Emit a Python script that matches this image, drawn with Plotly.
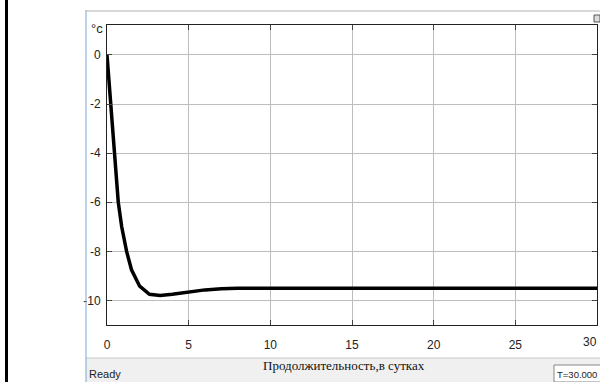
import plotly.graph_objects as go

# Data
t_days = [0, 0.22, 0.42, 0.58, 0.69, 0.9, 1.2, 1.5, 2.0, 2.6, 3.25, 4.0, 5.0, 6.0, 7.0, 8.0, 30]
temp_c = [0, -2, -4, -5.1, -6, -7, -8, -8.75, -9.42, -9.75, -9.8, -9.75, -9.65, -9.57, -9.52, -9.5, -9.5]
x_ticks = [0, 5, 10, 15, 20, 25, 30]
y_ticks = [0, -2, -4, -6, -8, -10]

W, H = 600, 382
L, R, T, B = 107, 597, 25, 325

def px(x):
    return (x - L) / (R - L)

def py(y):
    return (B - y) / (B - T)

fig = go.Figure()
fig.add_trace(go.Scatter(x=t_days, y=temp_c, mode="lines",
                         line=dict(color="black", width=3.5), showlegend=False))

shapes = [
    # status bar background
    dict(type="rect", xref="paper", yref="paper", x0=px(86), x1=px(600), y0=py(382), y1=py(358),
         fillcolor="#f0f0f0", line=dict(width=0), layer="below"),
    dict(type="line", xref="paper", yref="paper", x0=px(86), x1=px(600), y0=py(358), y1=py(358),
         line=dict(color="#c8c8c8", width=1)),
    # outer black frame line
    dict(type="line", xref="paper", yref="paper", x0=px(6.5), x1=px(6.5), y0=py(0), y1=py(382),
         line=dict(color="black", width=3)),
    # window left edge (blue)
    dict(type="line", xref="paper", yref="paper", x0=px(86), x1=px(86), y0=py(10), y1=py(382),
         line=dict(color="#7aa7d6", width=1)),
    # window top edge
    dict(type="line", xref="paper", yref="paper", x0=px(86), x1=px(600), y0=py(11), y1=py(11),
         line=dict(color="#b4b4b4", width=1)),
    # small icon at top right
    dict(type="rect", xref="paper", yref="paper", x0=px(594), x1=px(600), y0=py(22), y1=py(15),
         fillcolor="#dddddd", line=dict(color="#555555", width=1)),
    # T= box
    dict(type="rect", xref="paper", yref="paper", x0=px(554), x1=px(601), y0=py(382), y1=py(365),
         fillcolor="white", line=dict(color="#888888", width=1)),
]

annotations = [
    dict(text="°c", xref="paper", yref="paper", x=px(89), y=py(28), xanchor="left", yanchor="middle",
         showarrow=False, font=dict(family="Arial", size=13, color="#222")),
    dict(text="Продолжительность,в сутках", xref="paper", yref="paper", x=px(344), y=py(365),
         xanchor="center", yanchor="middle", showarrow=False,
         font=dict(family="Liberation Serif", size=13, color="#111")),
    dict(text="Ready", xref="paper", yref="paper", x=px(87), y=py(374), xanchor="left", yanchor="middle",
         showarrow=False, font=dict(family="Arial", size=11, color="#222")),
    dict(text="T=30.000", xref="paper", yref="paper", x=px(555), y=py(374), xanchor="left", yanchor="middle",
         showarrow=False, font=dict(family="Arial", size=9.5, color="#222")),
    # last x tick label, kept inside the window
    dict(text=str(x_ticks[-1]), xref="x", yref="paper", x=x_ticks[-1], y=py(342),
         xanchor="right", xshift=2, yanchor="middle", showarrow=False,
         font=dict(family="Arial", size=12, color="#222")),
]

fig.update_layout(
    width=W, height=H,
    margin=dict(l=L, r=W - R, t=T, b=H - B),
    paper_bgcolor="white", plot_bgcolor="white",
    shapes=shapes, annotations=annotations,
    xaxis=dict(range=[0, 30], tickvals=x_ticks, ticktext=[str(v) for v in x_ticks],
               showgrid=True, gridcolor="#bdbdbd", gridwidth=1, zeroline=False,
               showline=True, linecolor="#222", linewidth=1, mirror="ticks",
               ticks="inside", ticklen=5, tickcolor="#444",
               ticklabelstandoff=9,
               tickfont=dict(family="Arial", size=12, color="#222")),
    yaxis=dict(range=[-11.0, 1.22], tickvals=y_ticks, ticktext=[str(v) for v in y_ticks],
               showgrid=True, gridcolor="#bdbdbd", gridwidth=1, zeroline=False,
               showline=True, linecolor="#222", linewidth=1, mirror="ticks",
               ticks="inside", ticklen=5, tickcolor="#444",
               ticklabelstandoff=3,
               tickfont=dict(family="Arial", size=12, color="#222")),
)

fig.write_html("out.html", config={"displayModeBar": False},
               post_script="document.body.style.margin='0';document.body.style.overflow='hidden';")
